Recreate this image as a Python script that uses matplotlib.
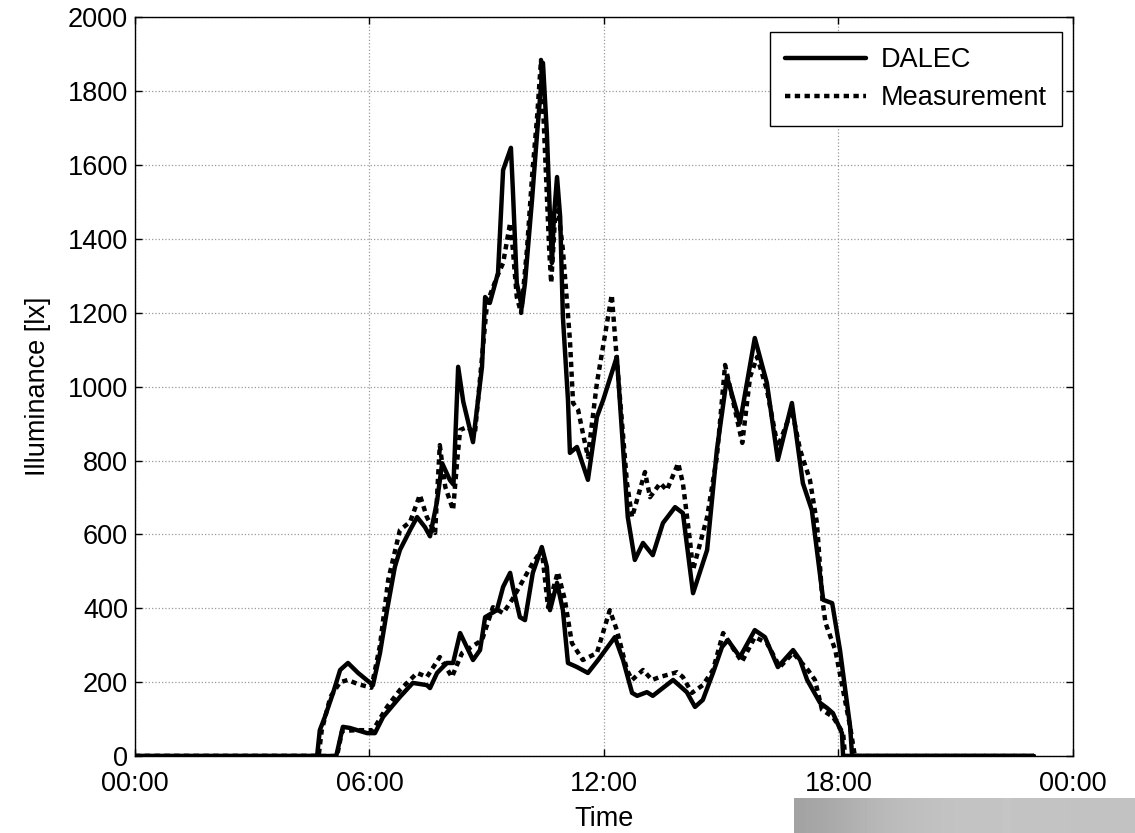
import numpy as np
import matplotlib
matplotlib.use("Agg")
import matplotlib.pyplot as plt

plt.rcParams['font.family'] = ['Liberation Sans', 'DejaVu Sans']

# hours of day and illuminance [lx]
# upper pair (DALEC / measurement)
hi_dalec_t = [0, 4.66, 4.73, 4.86, 5.07, 5.25, 5.45, 5.71, 6.09, 6.27, 6.45, 6.65, 6.78, 7.04,
              7.22, 7.42, 7.55, 7.73, 7.86, 8.06, 8.15, 8.27, 8.40, 8.65, 8.88, 8.96, 9.08, 9.29,
              9.42, 9.62, 9.67, 9.77, 9.90, 9.98, 10.16, 10.29, 10.44, 10.54, 10.62, 10.67, 10.72,
              10.80, 10.88, 10.95, 11.08, 11.13, 11.31, 11.59, 11.82, 11.98, 12.33, 12.61, 12.79,
              13.00, 13.25, 13.51, 13.82, 14.02, 14.28, 14.64, 14.89, 15.15, 15.48, 15.86, 16.17,
              16.45, 16.81, 17.09, 17.32, 17.61, 17.84, 18.04, 18.30, 18.35, 23.0]
hi_dalec_v = [0, 0, 70, 106, 171, 233, 252, 225, 192, 279, 395, 512, 558, 612,
              647, 620, 595, 690, 793, 747, 735, 1054, 960, 850, 1054, 1243, 1227, 1308,
              1587, 1647, 1533, 1281, 1216, 1281, 1506, 1687, 1877, 1687, 1460, 1335, 1460,
              1568, 1460, 1189, 964, 821, 837, 748, 918, 964, 1081, 647, 531,
              577, 544, 631, 674, 658, 441, 558, 829, 1027, 902, 1132, 1010,
              802, 956, 739, 666, 423, 414, 287, 79, 0, 0]

hi_meas_t = [0, 4.70, 4.78, 5.00, 5.25, 5.45, 5.70, 6.05, 6.27, 6.48, 6.78, 7.04, 7.29, 7.47,
             7.68, 7.80, 7.94, 8.14, 8.24, 8.32, 8.50, 8.70, 9.01, 9.26, 9.42, 9.60, 9.67, 9.77,
             9.88, 10.03, 10.16, 10.29, 10.39, 10.49, 10.60, 10.65, 10.75, 10.83, 10.95, 11.13,
             11.21, 11.34, 11.46, 11.59, 11.82, 12.20, 12.33, 12.59, 12.72, 13.05, 13.18, 13.44,
             13.61, 13.90, 14.02, 14.20, 14.28, 14.64, 14.89, 15.10, 15.41, 15.54, 15.74, 15.92,
             16.17, 16.45, 16.81, 17.02, 17.27, 17.45, 17.59, 17.67, 17.92, 18.30, 18.42, 23.0]
hi_meas_v = [0, 0, 70, 160, 200, 206, 195, 185, 300, 477, 612, 634, 707, 647,
             604, 842, 729, 666, 793, 883, 891, 875, 1227, 1297, 1335, 1444, 1371, 1243,
             1200, 1371, 1568, 1731, 1885, 1641, 1371, 1281, 1460, 1479, 1371, 1127,
             956, 937, 875, 810, 1010, 1249, 1073, 739, 647, 769, 701, 739,
             720, 793, 739, 585, 504, 647, 810, 1059, 910, 848, 1027, 1081,
             991, 837, 937, 829, 748, 631, 423, 360, 287, 79, 0, 0]

# lower pair
lo_dalec_t = [0, 5.15, 5.32, 5.50, 5.94, 6.14, 6.35, 6.78, 7.11, 7.47, 7.55, 7.73, 7.98, 8.14,
              8.32, 8.65, 8.83, 8.96, 9.26, 9.42, 9.60, 9.67, 9.85, 9.98, 10.18, 10.41, 10.54,
              10.62, 10.80, 10.95, 11.08, 11.31, 11.59, 11.85, 12.28, 12.49, 12.72, 12.85, 13.10,
              13.25, 13.77, 14.12, 14.33, 14.53, 14.79, 15.02, 15.17, 15.48, 15.86, 16.12, 16.45,
              16.84, 17.02, 17.20, 17.53, 17.71, 17.86, 18.09, 18.12, 23.0]
lo_dalec_v = [0, 0, 79, 76, 62, 62, 106, 160, 198, 192, 184, 225, 252, 252,
              333, 260, 287, 376, 395, 458, 496, 458, 376, 368, 496, 566, 512,
              395, 469, 395, 252, 241, 225, 260, 322, 260, 171, 163, 173,
              163, 206, 173, 133, 152, 225, 295, 314, 268, 341, 322, 241,
              287, 260, 206, 144, 130, 116, 62, 0, 0]

lo_meas_t = [0, 5.17, 5.30, 5.68, 6.09, 6.45, 6.78, 7.22, 7.47, 7.80, 8.11, 8.37, 8.88, 9.16,
             9.42, 9.65, 10.18, 10.41, 10.57, 10.82, 11.00, 11.18, 11.46, 11.82, 12.15, 12.33,
             12.59, 12.72, 13.00, 13.23, 13.43, 13.87, 14.02, 14.25, 14.53, 14.79, 15.05, 15.53,
             15.86, 16.17, 16.50, 16.84, 17.22, 17.40, 17.58, 17.86, 18.12, 18.17, 23.0]
lo_meas_v = [0, 0, 68, 70, 70, 133, 179, 225, 214, 268, 214, 279, 314, 403,
             387, 423, 523, 558, 403, 498, 423, 306, 260, 279, 395, 341,
             233, 206, 233, 206, 214, 227, 214, 171, 192, 233, 333, 255,
             322, 306, 241, 279, 233, 206, 125, 106, 62, 0, 0]

x_ticks = [0, 6, 12, 18, 24]
x_labels = ['00:00', '06:00', '12:00', '18:00', '00:00']
y_ticks = list(range(0, 2001, 200))

fs = 19.5
lw = 3.2
fig = plt.figure(figsize=(11.35, 8.33), dpi=100, facecolor='white')
ax = fig.add_axes([0.1189, 0.0924, 0.8264, 0.8866])

dots = (0, (1.2, 1.0))
style = dict(color='black', lw=lw, zorder=3, solid_joinstyle='round', solid_capstyle='round')
ax.plot(hi_dalec_t, hi_dalec_v, label='DALEC', **style)
ax.plot(hi_meas_t, hi_meas_v, ls=dots, label='Measurement', **style)
ax.plot(lo_dalec_t, lo_dalec_v, **style)
ax.plot(lo_meas_t, lo_meas_v, ls=dots, **style)

ax.set_xlim(0, 24)
ax.set_ylim(0, 2000)
ax.set_xticks(x_ticks)
ax.set_xticklabels(x_labels)
ax.set_yticks(y_ticks)
ax.tick_params(direction='in', length=5, width=1, top=True, right=True,
               labelsize=fs, colors='black')
ax.tick_params(axis='x', pad=11)
ax.tick_params(axis='y', pad=5)
ax.grid(True, color='#9a9a9a', ls=':', lw=0.9)
for s in ax.spines.values():
    s.set_linewidth(1.0)
    s.set_color('black')

ax.set_xlabel('Time', fontsize=fs, labelpad=6)
ax.set_ylabel('Illuminance [lx]', fontsize=fs, labelpad=12)

leg = ax.legend(loc='upper right', bbox_to_anchor=(0.988, 0.980), borderaxespad=0,
                fontsize=fs, fancybox=False, edgecolor='black', framealpha=1,
                handlelength=3.0, handletextpad=0.55, labelspacing=0.45,
                borderpad=0.55)
leg.get_frame().set_linewidth(1.0)

# grey strip in the lower right corner of the picture
gax = fig.add_axes([794 / 1135, 0, 1 - 794 / 1135, 35 / 833])
grad = np.array([[0.64, 0.70, 0.74, 0.76, 0.77, 0.77, 0.76, 0.76]])
gax.imshow(grad, aspect='auto', cmap='gray', vmin=0, vmax=1, interpolation='bicubic',
           extent=(0, 1, 0, 1))
gax.axis('off')

fig.savefig('out.png', dpi=100, facecolor='white')
